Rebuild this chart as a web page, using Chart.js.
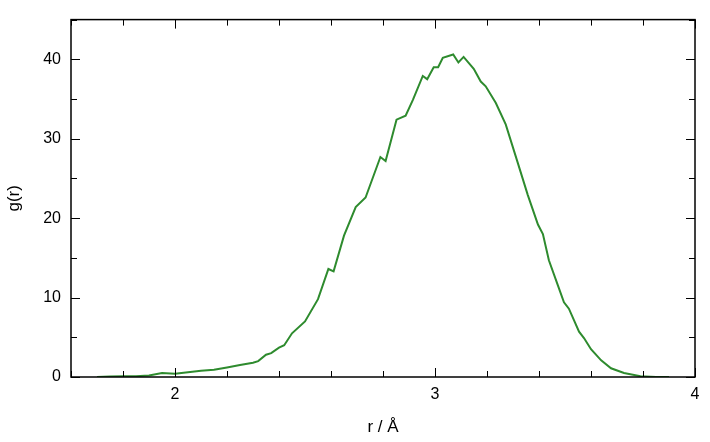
<!DOCTYPE html>
<html>
<head>
<meta charset="utf-8">
<script src="https://cdn.jsdelivr.net/npm/chart.js@4"></script>
<style>
  body { margin: 0; background: #fff; }
  #wrap { width: 710px; height: 442px; }
</style>
</head>
<body>
<div id="wrap"><canvas id="gr"></canvas></div>
<script>
const rValues = [1.70, 1.75, 1.80, 1.85, 1.90, 1.95, 2.00, 2.05, 2.10, 2.15, 2.20, 2.25, 2.30, 2.32, 2.35, 2.37, 2.40, 2.42, 2.45, 2.50, 2.55, 2.59, 2.61, 2.65, 2.695, 2.733, 2.79, 2.81, 2.852, 2.887, 2.915, 2.953, 2.97, 2.995, 3.012, 3.03, 3.07, 3.09, 3.11, 3.149, 3.176, 3.195, 3.234, 3.272, 3.319, 3.357, 3.396, 3.415, 3.438, 3.473, 3.496, 3.515, 3.554, 3.573, 3.60, 3.639, 3.677, 3.727, 3.79, 3.85, 3.90];
const gValues = [0.0, 0.05, 0.1, 0.1, 0.2, 0.5, 0.4, 0.6, 0.8, 0.9, 1.2, 1.5, 1.8, 2.0, 2.8, 3.0, 3.7, 4.0, 5.5, 7.0, 9.8, 13.6, 13.3, 17.8, 21.4, 22.6, 27.7, 27.2, 32.4, 32.9, 34.9, 37.9, 37.5, 39.0, 39.0, 40.2, 40.6, 39.6, 40.3, 38.8, 37.2, 36.6, 34.5, 31.8, 26.9, 22.9, 19.2, 18.0, 14.7, 11.5, 9.4, 8.6, 5.7, 4.9, 3.5, 2.1, 1.1, 0.5, 0.1, 0.0, 0.0];
const xMajorTicks = [2, 3, 4];
const yMajorTicks = [0, 10, 20, 30, 40];

const points = rValues.map((r, i) => ({x: r, y: gValues[i]}));

// ticks drawn inward from the frame
const innerTicks = {
  id: 'innerTicks',
  afterDraw(chart) {
    const ctx = chart.ctx, a = chart.chartArea;
    const xs = chart.scales.x, ys = chart.scales.y;
    ctx.save();
    ctx.strokeStyle = '#000';
    ctx.lineWidth = 1;
    ctx.beginPath();
    xs.ticks.forEach(t => {
      const px = Math.round(xs.getPixelForValue(t.value)) + 0.5;
      const len = xMajorTicks.includes(Math.round(t.value * 10) / 10) ? 9 : 6;
      ctx.moveTo(px, a.bottom); ctx.lineTo(px, a.bottom - len);
      ctx.moveTo(px, a.top); ctx.lineTo(px, a.top + len);
    });
    ys.ticks.forEach(t => {
      const py = Math.round(ys.getPixelForValue(t.value)) + 0.5;
      const len = yMajorTicks.includes(t.value) ? 9 : 6;
      ctx.moveTo(a.left, py); ctx.lineTo(a.left + len, py);
      ctx.moveTo(a.right, py); ctx.lineTo(a.right - len, py);
    });
    ctx.stroke();
    ctx.lineWidth = 1.5;
    ctx.strokeRect(a.left, a.top, a.right - a.left, a.bottom - a.top);
    ctx.restore();
  }
};

const gridOff = {display: false, drawOnChartArea: false, drawTicks: false};

new Chart(document.getElementById('gr'), {
  type: 'line',
  data: {
    datasets: [{
      data: points,
      borderColor: '#2e8b2e',
      borderWidth: 2,
      pointRadius: 0,
      tension: 0,
      fill: false
    }]
  },
  options: {
    responsive: true,
    maintainAspectRatio: false,
    animation: false,
    layout: {padding: {top: -3, right: 15, left: 0, bottom: 0}},
    plugins: {legend: {display: false}, tooltip: {enabled: false}},
    scales: {
      x: {
        type: 'linear', min: 1.6, max: 4,
        grid: gridOff, border: {display: false},
        afterFit(s) { s.height = 65; },
        ticks: {
          stepSize: 0.2, autoSkip: false, maxRotation: 0, padding: 8,
          color: '#000', font: {family: 'Liberation Sans', size: 16},
          callback: v => xMajorTicks.includes(Math.round(v * 10) / 10) ? String(Math.round(v)) : ''
        },
        title: {display: true, text: 'r / Å', color: '#000', padding: {top: 4},
          font: {family: 'Liberation Sans', size: 17}}
      },
      y: {
        min: 0, max: 45,
        grid: gridOff, border: {display: false},
        afterFit(s) { s.width = 71; },
        ticks: {
          stepSize: 5, padding: 10,
          color: '#000', font: {family: 'Liberation Sans', size: 16},
          callback: v => yMajorTicks.includes(v) ? String(v) : ''
        },
        title: {display: true, text: 'g(r)', color: '#000',
          font: {family: 'Liberation Sans', size: 17}}
      }
    }
  },
  plugins: [innerTicks]
});
</script>
</body>
</html>
